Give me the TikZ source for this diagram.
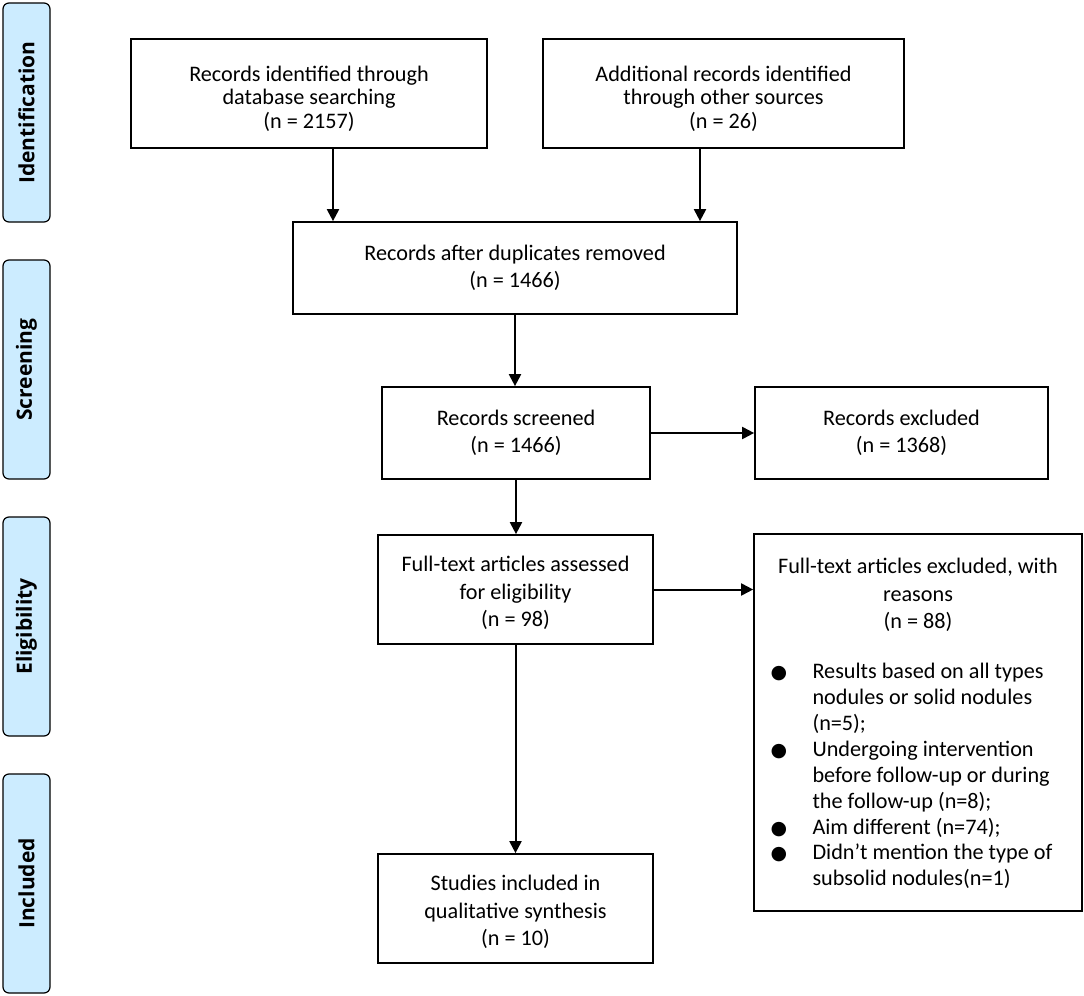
\documentclass[tikz,border=0pt]{standalone}
\usepackage{fontspec}
\setmainfont{Carlito}
\newfontfamily\sidefont{Open Sans}
\newfontfamily\dotfont{DejaVu Sans}
\usetikzlibrary{arrows.meta,calc}
\usetikzlibrary{positioning}
\definecolor{stagefill}{RGB}{204,236,255}
\newcommand{\bul}{{\dotfont\fontsize{9.5}{9}\selectfont ●}}% big black dot
\tikzstyle{box}=[draw,line width=0.85pt,align=center,inner sep=0pt,font=\fontsize{11.1}{13.75}\selectfont]
\tikzstyle{txt}=[draw=none,align=center,inner sep=0pt,font=\fontsize{11.1}{13.75}\selectfont]
\tikzstyle{stage}=[draw,line width=0.6pt,fill=stagefill,rounded corners=3pt,rotate=90,minimum width=109.5pt,minimum height=23.5pt,inner sep=0pt,font=\sidefont\bfseries\fontsize{10.5}{12}\selectfont]
\tikzstyle{arr}=[line width=1pt,-{Triangle[length=6pt,width=6pt]}]

\begin{document}
\begin{tikzpicture}[x=0.5pt,y=-0.5pt]
\useasboundingbox (0,0) rectangle (1084,996);
% stage labels on the left
\node[stage] (ident) at (26.5,112.5) {Identification};
\node[stage] (screen) at (26.5,369.5) {Screening};
\node[stage] (elig) at (26.5,626.5) {Eligibility};
\node[stage] (incl) at (26.5,883.5) {Included};
%
% identification
\node[box,minimum width=178pt,minimum height=54.5pt] (dbrec) at (309,93.5) {};
\node[txt,font=\fontsize{11.1}{11.7}\selectfont] (dbrectext) at ($(dbrec.center)+(0,5)$) {Records identified through\\database searching\\(n = 2157)};
\node[box,minimum width=180.5pt,minimum height=54.5pt] (addrec) at (723.5,93.5) {};
\node[txt,font=\fontsize{11.1}{11.7}\selectfont] (addrectext) at ($(addrec.center)+(0,5)$) {Additional records identified\\through other sources\\(n = 26)};
%
% screening
\node[box,minimum width=222pt,minimum height=46pt] (dupl) at (515,268) {Records after duplicates removed\\(n = 1466)};
\node[box,minimum width=134pt,minimum height=46pt] (screened) at (516,433) {Records screened\\(n = 1466)};
\node[box,minimum width=146.5pt,minimum height=46pt] (excl) at (901.5,433) {Records excluded\\(n = 1368)};
%
% eligibility
\node[box,minimum width=137.5pt,minimum height=54.5pt] (assess) at (515.5,589.5) {};
\node[txt] (assesstext) at ($(assess.center)+(0,3.5)$) {Full-text articles assessed\\for eligibility\\(n = 98)};
\node[box,minimum width=164pt,minimum height=188.5pt] (fullexcl) at (918,722.5) {};
\node[txt,anchor=north] (fullexcltitle) at ($(fullexcl.north)+(0,25)$) {Full-text articles excluded, with\\reasons\\(n = 88)};
\node[txt,anchor=north west,align=left,font=\fontsize{11.1}{12.95}\selectfont] (reasonlist) at ($(fullexcl.north west)+(17,127)$) {%
\begin{tabular}{@{}p{21pt}@{}l@{}}
\bul & Results based on all types\\
 & nodules or solid nodules\\
 & (n=5);\\
\bul & Undergoing intervention\\
 & before follow-up or during\\
 & the follow-up (n=8);\\
\bul & Aim different (n=74);\\
\bul & Didn’t mention the type of\\
 & subsolid nodules(n=1)
\end{tabular}};
%
% included
\node[box,minimum width=137.5pt,minimum height=54.5pt] (incstud) at (515.5,908.5) {};
\node[txt] (incstudtext) at ($(incstud.center)+(0,3.5)$) {Studies included in\\qualitative synthesis\\(n = 10)};
%
% arrows
\coordinate (a1) at (333,0);
\coordinate (a2) at (700,0);
\draw[arr] (dbrec.south -| a1) -- (dupl.north -| a1);
\draw[arr] (addrec.south -| a2) -- (dupl.north -| a2);
\draw[arr] (dupl.south) -- (dupl.south |- screened.north);
\draw[arr] (screened.east) -- (excl.west);
\draw[arr] (screened.south) -- (screened.south |- assess.north);
\draw[arr] (assess.east) -- (assess.east -| fullexcl.west);
\draw[arr] (assess.south) -- (assess.south |- incstud.north);
\end{tikzpicture}
\end{document}
